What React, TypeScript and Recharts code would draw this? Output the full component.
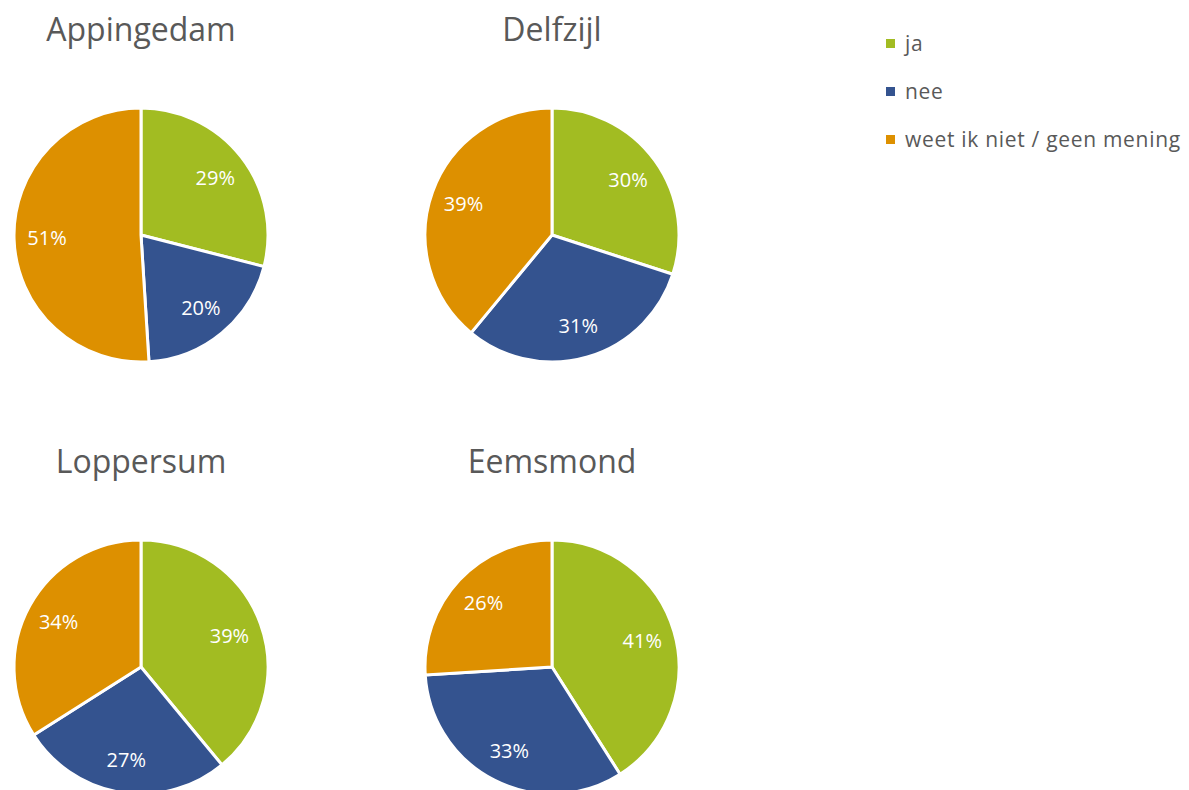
import { Cell, Legend, Pie, PieChart } from "recharts";

const categories = ["ja", "nee", "weet ik niet / geen mening"];
const colors = ["#A2BC22", "#34538F", "#DD9000"];

const municipalities = ["Appingedam", "Delfzijl", "Loppersum", "Eemsmond"];
const appingedam = [29, 20, 51];
const delfzijl = [30, 31, 39];
const loppersum = [39, 27, 34];
const eemsmond = [41, 33, 26];

const seriesValues = [appingedam, delfzijl, loppersum, eemsmond];

// pixel centres of the four pies
const centers = [
  { cx: 141, cy: 235 },
  { cx: 552, cy: 235 },
  { cx: 141, cy: 667 },
  { cx: 552, cy: 667 },
];
const RADIUS = 127;
const GRAY = "#595959";
const FONT = "'Open Sans', 'Noto Sans', sans-serif";

const renderLabel = ({ cx, cy, midAngle, outerRadius, value }: any) => {
  const RADIAN = Math.PI / 180;
  const r = outerRadius * 0.74;
  const x = cx + r * Math.cos(-midAngle * RADIAN);
  const y = cy + r * Math.sin(-midAngle * RADIAN);
  return (
    <text
      x={x}
      y={y}
      fill="#ffffff"
      fontSize={20}
      fontFamily={FONT}
      textAnchor="middle"
      dominantBaseline="central"
    >
      {`${value}%`}
    </text>
  );
};

const renderLegend = () => (
  <div style={{ fontFamily: FONT }}>
    {categories.map((cat, i) => (
      <div
        key={cat}
        style={{
          display: "flex",
          alignItems: "center",
          height: 48,
          color: GRAY,
          fontSize: 21,
          letterSpacing: 0.7,
        }}
      >
        <span
          style={{
            display: "inline-block",
            width: 9,
            height: 9,
            background: colors[i],
            marginRight: 10,
          }}
        />
        {cat}
      </div>
    ))}
  </div>
);

export default function App() {
  return (
    <div
      style={{
        position: "absolute",
        left: 0,
        top: 0,
        width: 1189,
        height: 790,
        overflow: "hidden",
        background: "#fff",
      }}
    >
      {municipalities.map((name, i) => (
        <div
          key={name}
          style={{
            position: "absolute",
            left: centers[i].cx - 150,
            width: 300,
            top: centers[i].cy - 222,
            textAlign: "center",
            fontFamily: FONT,
            fontSize: 32,
            lineHeight: "32px",
            color: GRAY,
          }}
        >
          {name}
        </div>
      ))}
      <PieChart
        width={1189}
        height={790}
        margin={{ top: 0, right: 0, bottom: 0, left: 0 }}
        style={{ position: "absolute", left: 0, top: 0 }}
      >
        {seriesValues.map((vals, i) => {
          const data = categories.map((c, j) => ({ name: c, value: vals[j] }));
          return (
            <Pie
              key={municipalities[i]}
              data={data}
              dataKey="value"
              nameKey="name"
              cx={centers[i].cx}
              cy={centers[i].cy}
              outerRadius={RADIUS}
              startAngle={90}
              endAngle={-270}
              stroke="#ffffff"
              strokeWidth={3}
              labelLine={false}
              label={renderLabel}
              isAnimationActive={false}
            >
              {data.map((_d, j) => (
                <Cell key={`cell-${j}`} fill={colors[j]} />
              ))}
            </Pie>
          );
        })}
        <Legend
          content={renderLegend}
          wrapperStyle={{ position: "absolute", left: 886, top: 19, width: 300 }}
        />
      </PieChart>
    </div>
  );
}
